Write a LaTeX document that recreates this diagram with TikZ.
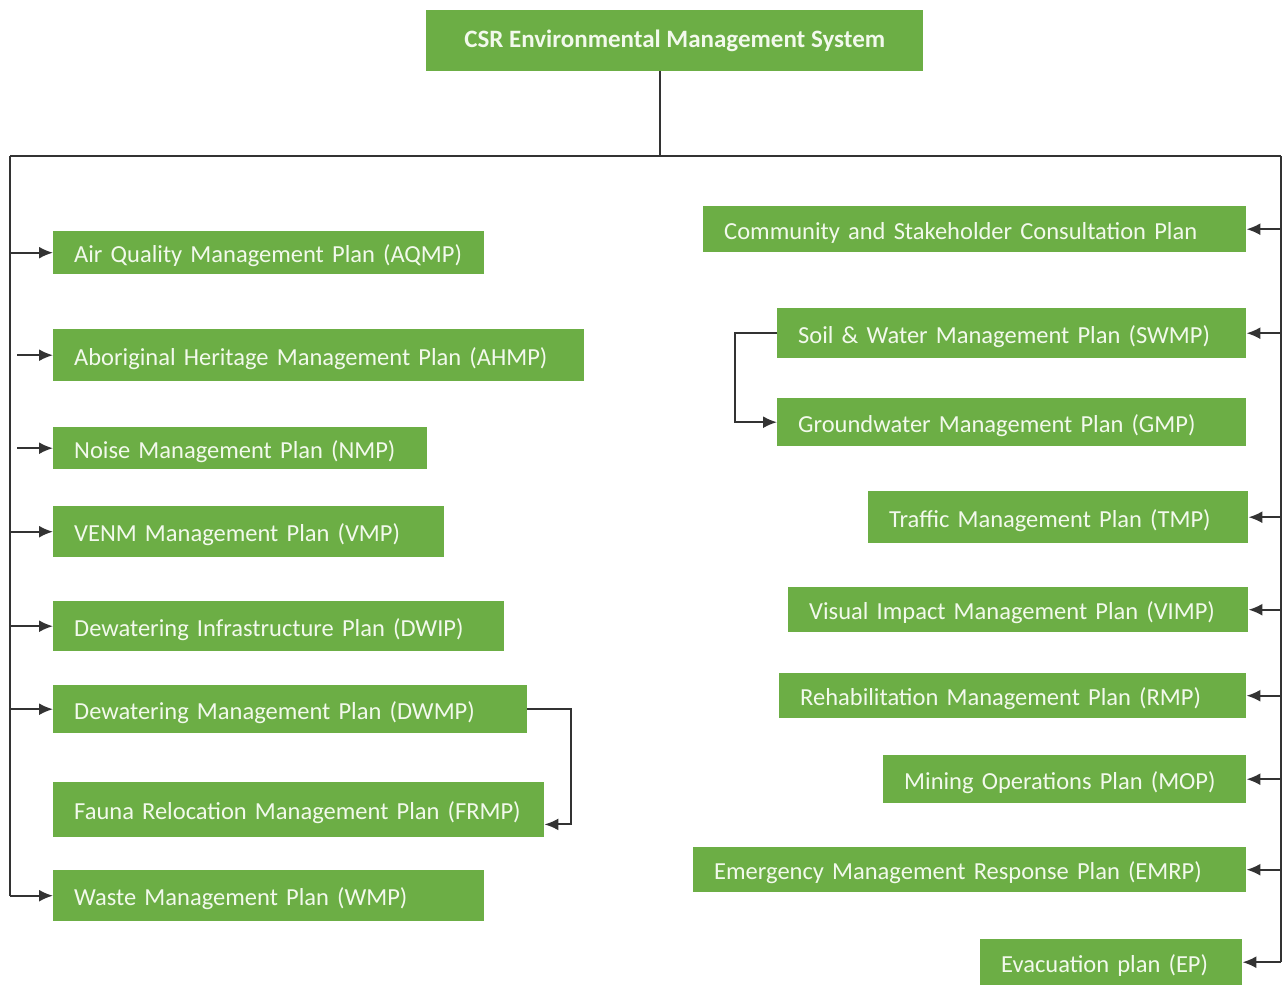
\documentclass[tikz,border=0pt]{standalone}
\usepackage{fontspec}
\setmainfont{Carlito}
\usetikzlibrary{arrows.meta}
\definecolor{boxgreen}{HTML}{6CAE45}
\definecolor{boxtext}{HTML}{F2F9EC}
\definecolor{linecol}{HTML}{333333}
\tikzset{
  plan/.style={fill=boxgreen, text=boxtext, font=\fontsize{24.5}{28}\selectfont, anchor=north west, inner xsep=21pt, inner ysep=0pt, align=left, text height=20pt, text depth=0pt},
  conn/.style={draw=linecol, line width=2pt},
  arr/.style={conn, -{Latex[length=14pt,width=12pt]}}
}
\begin{document}
\begin{tikzpicture}[x=1pt,y=-1pt]
\useasboundingbox (0,0) rectangle (1284,985);
% top
\node[fill=boxgreen, text=boxtext, font=\bfseries\fontsize{25}{28}\selectfont, anchor=north west, minimum width=497pt, minimum height=61pt, inner sep=0pt] (top) at (426,10) {CSR Environmental Management System};
% left column
\node[plan, text width=389pt, minimum height=43pt] (aqmp) at (53,231) {Air Quality Management Plan (AQMP)};
\node[plan, text width=489pt, minimum height=52pt] (ahmp) at (53,329) {Aboriginal Heritage Management Plan (AHMP)};
\node[plan, text width=332pt, minimum height=42pt] (nmp) at (53,427) {Noise Management Plan (NMP)};
\node[plan, text width=349pt, minimum height=51pt] (vmp) at (53,506) {VENM Management Plan (VMP)};
\node[plan, text width=409pt, minimum height=50pt] (dwip) at (53,601) {Dewatering Infrastructure Plan (DWIP)};
\node[plan, text width=432pt, minimum height=48pt] (dwmp) at (53,685) {Dewatering Management Plan (DWMP)};
\node[plan, text width=449pt, minimum height=55pt] (frmp) at (53,782) {Fauna Relocation Management Plan (FRMP)};
\node[plan, text width=389pt, minimum height=51pt] (wmp) at (53,870) {Waste Management Plan (WMP)};
% right column
\node[plan, text width=501pt, minimum height=46pt] (csc) at (703,206) {Community and Stakeholder Consultation Plan};
\node[plan, text width=427pt, minimum height=50pt] (swmp) at (777,308) {Soil \& Water Management Plan (SWMP)};
\node[plan, text width=427pt, minimum height=48pt] (gmp) at (777,398) {Groundwater Management Plan (GMP)};
\node[plan, text width=338pt, minimum height=52pt] (tmp) at (868,491) {Traffic Management Plan (TMP)};
\node[plan, text width=418pt, minimum height=45pt] (vimp) at (788,587) {Visual Impact Management Plan (VIMP)};
\node[plan, text width=425pt, minimum height=45pt] (rmp) at (779,673) {Rehabilitation Management Plan (RMP)};
\node[plan, text width=321pt, minimum height=48pt] (mop) at (883,755) {Mining Operations Plan (MOP)};
\node[plan, text width=511pt, minimum height=45pt] (emrp) at (693,847) {Emergency Management Response Plan (EMRP)};
\node[plan, text width=220pt, minimum height=46pt] (ep) at (980,939) {Evacuation plan (EP)};
% trunk
\coordinate (L) at (10,156);
\coordinate (R) at (1281,156);
\coordinate (J) at (660,156);
\draw[conn] (J |- top.south) -- (J);
\draw[conn] (L) -- (R);
\draw[conn] (L) -- (L |- wmp.west);
\draw[conn] (R) -- (R |- ep.east);
% left arrows
\draw[arr] (L |- aqmp.west) -- (aqmp.west);
\draw[arr] ([xshift=7pt]L |- ahmp.west) -- (ahmp.west);
\draw[arr] ([xshift=7pt]L |- nmp.west) -- (nmp.west);
\draw[arr] (L |- vmp.west) -- (vmp.west);
\draw[arr] (L |- dwip.west) -- (dwip.west);
\draw[arr] (L |- dwmp.west) -- (dwmp.west);
\draw[arr] (L |- wmp.west) -- (wmp.west);
\draw[arr] (dwmp.east) -- ++(44,0) |- ([yshift=13pt]frmp.south east);
% right arrows
\draw[arr] (R |- csc.east) -- (csc.east);
\draw[arr] (R |- swmp.east) -- (swmp.east);
\draw[arr] (R |- tmp.east) -- (tmp.east);
\draw[arr] (R |- vimp.east) -- (vimp.east);
\draw[arr] (R |- rmp.east) -- (rmp.east);
\draw[arr] (R |- mop.east) -- (mop.east);
\draw[arr] (R |- emrp.east) -- (emrp.east);
\draw[arr] (R |- ep.east) -- (ep.east);
\draw[arr] (swmp.west) -- ++(-42,0) |- (gmp.west);
\end{tikzpicture}
\end{document}
